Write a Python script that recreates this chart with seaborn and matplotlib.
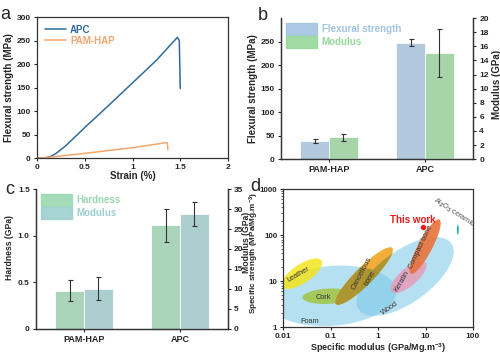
import numpy as np
import pandas as pd
import matplotlib
matplotlib.use('Agg')
import matplotlib.pyplot as plt
import matplotlib.patches as mpatches
from matplotlib.ticker import MultipleLocator
import seaborn as sns

# ---- panel a: flexural stress-strain curves
apc_strain = [0.0, 0.08, 0.15, 0.2, 0.3, 0.5, 0.75, 1.0, 1.25, 1.47, 1.49, 1.5]
apc_stress = [0, 0, 4, 10, 26, 65, 112, 160, 208, 257, 250, 148]
pam_strain = [0.0, 0.1, 0.5, 1.0, 1.36, 1.365, 1.37]
pam_stress = [0, 1, 10, 22, 33, 32, 18]

# ---- panel b: flexural strength / modulus
samples = ['PAM-HAP', 'APC']
flex_strength = [38, 248]
flex_strength_err = [4, 7]
flex_modulus = [3.1, 15.0]
flex_modulus_err = [0.5, 3.4]

# ---- panel c: hardness / nano modulus
hardness = [0.41, 1.11]
hardness_err = [0.11, 0.18]
nano_modulus = [10.1, 28.7]
nano_modulus_err = [2.8, 3.0]

# ---- panel d: Ashby map, ellipses (centre in data units, size in decades)
mat_names = ['Foam', 'Wood', 'Leather', 'Cork', 'Cancellous bone', 'Keratin', 'Compact bone', 'Al2O3']
mat_cx = [0.11, 3.7, 0.025, 0.091, 0.51, 4.4, 9.8, 48]
mat_cy = [4.8, 12.6, 14.5, 4.7, 12.9, 12.3, 56, 131]
mat_w = [2.7, 2.42, 1.0, 1.1, 1.7, 0.95, 1.32, 0.04]
mat_h = [1.3, 1.12, 0.4, 0.33, 0.38, 0.38, 0.3, 0.22]
mat_ang = [5, 37, 35, 3, 46, 42, 63, 0]
this_work_x = [9.0]
this_work_y = [149]

sns.set_style('ticks')
plt.rcParams['font.family'] = ['Liberation Sans', 'DejaVu Sans']
plt.rcParams['font.weight'] = 'bold'
plt.rcParams['axes.labelweight'] = 'bold'
plt.rcParams['axes.linewidth'] = 0.9
plt.rcParams['axes.edgecolor'] = '#333333'
plt.rcParams['xtick.labelsize'] = 6
plt.rcParams['ytick.labelsize'] = 6
plt.rcParams['xtick.major.size'] = 2.5
plt.rcParams['ytick.major.size'] = 2.5
plt.rcParams['xtick.major.width'] = 0.8
plt.rcParams['ytick.major.width'] = 0.8
plt.rcParams['xtick.major.pad'] = 2
plt.rcParams['ytick.major.pad'] = 2
plt.rcParams['mathtext.fontset'] = 'custom'
plt.rcParams['mathtext.rm'] = 'Liberation Sans:bold'
plt.rcParams['mathtext.default'] = 'rm'

lab_fs = 7
fig = plt.figure(figsize=(5, 3.56), dpi=100)

# ================= a
ax = fig.add_axes([0.074, 0.556, 0.382, 0.396])
dfa = pd.DataFrame({'strain': apc_strain + pam_strain,
                    'stress': apc_stress + pam_stress,
                    'sample': ['APC'] * len(apc_strain) + ['PAM-HAP'] * len(pam_strain)})
sns.lineplot(data=dfa, x='strain', y='stress', hue='sample', sort=False, estimator=None,
             palette={'APC': '#2f6c9c', 'PAM-HAP': '#f5a66e'}, lw=1.1, ax=ax)
ax.set_xlim(0, 2)
ax.set_ylim(0, 300)
ax.set_xticks([0, 0.5, 1, 1.5, 2])
ax.set_xticklabels(['0', '0.5', '1', '1.5', '2'])
ax.yaxis.set_major_locator(MultipleLocator(50))
ax.set_xlabel('Strain (%)', fontsize=lab_fs, labelpad=0)
ax.set_ylabel('Flexural strength (MPa)', fontsize=lab_fs, labelpad=2)
leg = ax.legend(loc='upper left', frameon=False, fontsize=7, handlelength=2.2,
                handletextpad=0.4, borderpad=0.2, borderaxespad=0.6, labelspacing=0.1)
for t, c in zip(leg.get_texts(), ['#2f6c9c', '#f5a66e']):
    t.set_color(c)
ax.text(-0.19, 1.02, 'a', transform=ax.transAxes, fontsize=13, fontweight='normal', va='center')


def twin_bars(ax, vals_l, err_l, vals_r, err_r, names, colors, ylim_l, ylim_r):
    dfl = pd.DataFrame({'sample': samples, 'value': vals_l, 'series': names[0]})
    dfr = pd.DataFrame({'sample': samples, 'value': vals_r, 'series': names[1]})
    pal = dict(zip(names, colors))
    sns.barplot(data=dfl, x='sample', y='value', hue='series', hue_order=names, order=samples,
                palette=pal, width=0.6, alpha=0.9, edgecolor='white', linewidth=0.6,
                dodge=True, legend=False, ax=ax)
    ax2 = ax.twinx()
    sns.barplot(data=dfr, x='sample', y='value', hue='series', hue_order=names, order=samples,
                palette=pal, width=0.6, alpha=0.9, edgecolor='white', linewidth=0.6,
                dodge=True, legend=False, ax=ax2)
    for a, vals, errs in [(ax, vals_l, err_l), (ax2, vals_r, err_r)]:
        xs = [p.get_x() + p.get_width() / 2 for p in a.patches]
        a.errorbar(xs, vals, yerr=errs, fmt='none', ecolor='#333333', elinewidth=0.8,
                   capsize=1.8, capthick=0.8)
    ax.set_xlim(-0.5, 1.5)
    ax2.set_xlim(-0.5, 1.5)
    ax.set_ylim(*ylim_l)
    ax2.set_ylim(*ylim_r)
    for a in (ax, ax2):
        a.spines['top'].set_visible(False)
        a.set_xlabel('')
    ax.tick_params(axis='x', labelsize=6.5)
    handles = [mpatches.Patch(color=c, alpha=0.9) for c in colors]
    leg = ax.legend(handles, names, loc='upper left', frameon=False, fontsize=7,
                    handlelength=3.2, handleheight=1.5, borderaxespad=0.1, labelspacing=0.15,
                    handletextpad=0.5)
    for t, c in zip(leg.get_texts(), colors):
        t.set_color(c)
    return ax2


# ================= b
ax = fig.add_axes([0.562, 0.553, 0.384, 0.396])
ax2 = twin_bars(ax, flex_strength, flex_strength_err, flex_modulus, flex_modulus_err,
                ['Flexural strength', 'Modulus'], ['#a2c4e2', '#96d99a'], (0, 300), (0, 20))
ax.set_yticks([0, 50, 100, 150, 200, 250])
ax2.yaxis.set_major_locator(MultipleLocator(2))
ax.set_ylabel('Flexural strength (MPa)', fontsize=lab_fs, labelpad=2)
ax2.set_ylabel('Modulus (GPa)', fontsize=lab_fs, labelpad=2)
ax2.yaxis.label.set_y(0.53)
ax.text(-0.12, 1.02, 'b', transform=ax.transAxes, fontsize=13, fontweight='normal', va='center')

# ================= c
ax = fig.add_axes([0.072, 0.076, 0.384, 0.393])
ax2 = twin_bars(ax, hardness, hardness_err, nano_modulus, nano_modulus_err,
                ['Hardness', 'Modulus'], ['#9ad9b2', '#9ccfd0'], (0, 1.5), (0, 35))
ax.set_yticks([0, 0.5, 1.0, 1.5])
ax.set_yticklabels(['0', '0.5', '1.0', '1.5'])
ax2.yaxis.set_major_locator(MultipleLocator(5))
ax2.tick_params(axis='y', pad=1.5)
ax.set_ylabel('Hardness (GPa)', fontsize=6.2, labelpad=3)
ax.yaxis.label.set_y(0.58)
ax2.set_ylabel('Modulus (GPa)', fontsize=6.2, labelpad=-1)
ax2.yaxis.label.set_y(0.62)
ax.text(-0.16, 1.0, 'c', transform=ax.transAxes, fontsize=13, fontweight='normal', va='center')

# ================= d
ax = fig.add_axes([0.566, 0.081, 0.38, 0.388])
ax.set_xscale('log')
ax.set_yscale('log')
ax.set_xlim(0.01, 100)
ax.set_ylim(1, 1000)

fills = {'Foam': ('#78c8e6', 0.55), 'Wood': ('#78c8e6', 0.55), 'Leather': ('#f4e41c', 0.85),
         'Cork': ('#a4c64a', 0.9), 'Cancellous bone': ('#f0a524', 0.9),
         'Keratin': ('#e4a0bc', 0.9), 'Compact bone': ('#e9723a', 0.9),
         'Al2O3': ('#26b3b3', 1.0)}


def ellipse(cx, cy, w, h, ang):
    t = np.linspace(0, 2 * np.pi, 200)
    a = np.deg2rad(ang)
    X = np.log10(cx) + w / 2 * np.cos(t) * np.cos(a) - h / 2 * np.sin(t) * np.sin(a)
    Y = np.log10(cy) + w / 2 * np.cos(t) * np.sin(a) + h / 2 * np.sin(t) * np.cos(a)
    return 10 ** X, 10 ** Y


polys = {}
for n, cx, cy, w, h, ang in zip(mat_names, mat_cx, mat_cy, mat_w, mat_h, mat_ang):
    xe, ye = ellipse(cx, cy, w, h, ang)
    col, al = fills[n]
    polys[n] = ax.fill(xe, ye, color=col, alpha=al, lw=0)[0]
    if n == 'Cancellous bone':
        for base in ('Foam', 'Wood'):
            p = ax.fill(xe, ye, color='#a39232', alpha=0.85, lw=0)[0]
            p.set_clip_path(polys[base])

sns.scatterplot(x=this_work_x, y=this_work_y, color='#f01818', s=18, edgecolor='white',
                linewidth=0.4, ax=ax, zorder=5)

txt = dict(fontsize=5.3, fontweight='normal', color='#333333', ha='center', va='center',
           rotation_mode='anchor')
ax.text(0.036, 1.3, 'Foam', **txt)
ax.text(0.021, 13.7, 'Leather', rotation=30, **txt)
ax.text(0.07, 4.5, 'Cork', **txt)
ax.text(0.56, 13.3, 'Cancellous\nbone', rotation=62, linespacing=1.6, **txt)
ax.text(3.2, 9.8, 'Keratin', rotation=60, **txt)
ax.text(8.0, 55, 'Compact bone', rotation=65, **txt)
ax.text(1.8, 2.6, 'Wood', rotation=35, **txt)
ax.text(39, 300, 'Al$_2$O$_3$ ceramic', rotation=-33, fontsize=5.3, color='#555555',
        ha='center', va='center', rotation_mode='anchor', fontweight='normal')
ax.text(5.3, 215, 'This work', color='#f01818', fontsize=7, fontweight='bold',
        ha='center', va='center')

ax.set_xticks([0.01, 0.1, 1, 10, 100])
ax.set_xticklabels(['0.01', '0.1', '1', '10', '100'])
ax.set_yticks([1, 10, 100, 1000])
ax.set_yticklabels(['1', '10', '100', '1000'])
ax.tick_params(axis='x', which='minor', bottom=False)
ax.tick_params(axis='y', which='minor', length=1.5, width=0.5)
ax.tick_params(axis='y', which='major', pad=1.5, labelsize=5.7)
ax.set_xlabel('Specific modulus (GPa/Mg.m$^{-3}$)', fontsize=6.5, labelpad=0.5)
ax.set_ylabel('Specific strength (MPa/Mg.m$^{-3}$)', fontsize=5.9, labelpad=-0.5)
ax.yaxis.label.set_y(0.54)
ax.text(-0.17, 1.02, 'd', transform=ax.transAxes, fontsize=13, fontweight='normal', va='center')

fig.savefig('out.png', dpi=100)
